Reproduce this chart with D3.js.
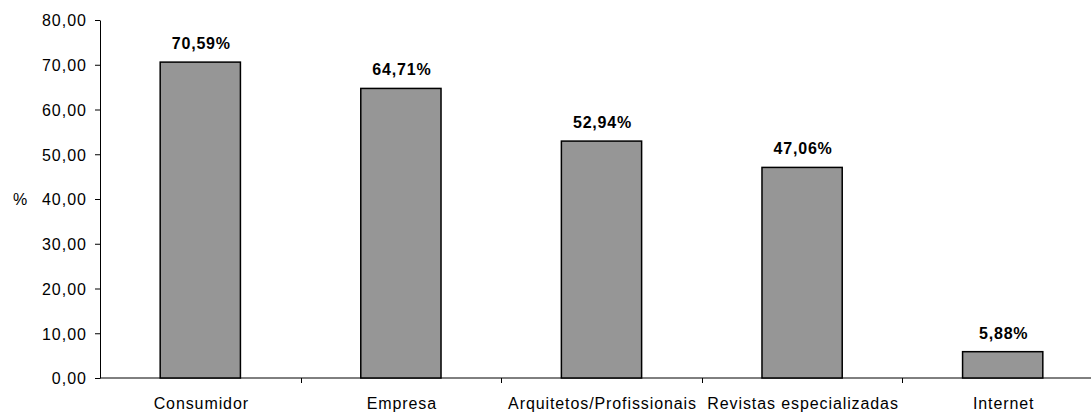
<!DOCTYPE html>
<html>
<head>
<meta charset="utf-8">
<script src="https://cdn.jsdelivr.net/npm/d3@7"></script>
<style>
  body { margin: 0; background: #fff; }
  text { font-family: Arial, "Liberation Sans", sans-serif; fill: #000; }
</style>
</head>
<body>
<div id="chart"></div>
<script>
// data
var categories = ["Consumidor", "Empresa", "Arquitetos/Profissionais", "Revistas especializadas", "Internet"];
var values = [70.59, 64.71, 52.94, 47.06, 5.88];
var yTicks = [0, 10, 20, 30, 40, 50, 60, 70, 80];

(function () {
    var width = 1091, height = 413;
    var left = 100, right = 1103, top = 20, bottom = 378;

    var svg = d3.select("#chart").append("svg")
        .attr("width", width)
        .attr("height", height);

    var x = d3.scaleBand()
        .domain(categories)
        .range([left, right])
        .paddingInner(0.6)
        .paddingOuter(0.3);

    var y = d3.scaleLinear().domain([0, 80]).range([bottom, top]);

    var fmt = function (v) { return d3.format(".2f")(v).replace(".", ","); };

    // y axis
    var yAxis = svg.append("g")
        .attr("transform", "translate(" + left + ",0)")
        .call(d3.axisLeft(y).tickValues(yTicks).tickSize(5).tickSizeOuter(0).tickFormat(fmt));
    yAxis.select(".domain").attr("stroke", "#000");
    yAxis.selectAll(".tick line").attr("stroke", "#000");
    yAxis.selectAll(".tick text")
        .attr("x", -13)
        .attr("dy", "0.36em")
        .style("font-size", "16px")
        .style("letter-spacing", "1px")
        .style("font-family", "Arial, 'Liberation Sans', sans-serif")
        .attr("fill", "#000");

    // x axis line + separators between categories
    var step = x.step();
    svg.append("line")
        .attr("x1", left).attr("x2", right)
        .attr("y1", bottom).attr("y2", bottom)
        .attr("stroke", "#000");
    svg.selectAll(".xsep")
        .data(categories.slice(1))
        .enter().append("line")
        .attr("class", "xsep")
        .attr("x1", function (d) { return Math.round(x(d) - x.paddingInner() * step / 2) + 0.5; })
        .attr("x2", function (d) { return Math.round(x(d) - x.paddingInner() * step / 2) + 0.5; })
        .attr("y1", bottom).attr("y2", bottom + 5)
        .attr("stroke", "#000");

    // bars
    svg.selectAll(".bar")
        .data(values)
        .enter().append("rect")
        .attr("class", "bar")
        .attr("x", function (d, i) { return x(categories[i]); })
        .attr("y", function (d) { return y(d); })
        .attr("width", x.bandwidth())
        .attr("height", function (d) { return y(0) - y(d); })
        .attr("fill", "#969696")
        .attr("stroke", "#000")
        .attr("stroke-width", 1.5);

    // value labels
    svg.selectAll(".val")
        .data(values)
        .enter().append("text")
        .attr("class", "val")
        .attr("x", function (d, i) { return x(categories[i]) + x.bandwidth() / 2 + 1; })
        .attr("y", function (d) { return y(d) - 13; })
        .attr("text-anchor", "middle")
        .style("font-size", "16px")
        .style("font-weight", "bold")
        .style("letter-spacing", "0.8px")
        .text(function (d) { return fmt(d) + "%"; });

    // category labels
    svg.selectAll(".cat")
        .data(categories)
        .enter().append("text")
        .attr("class", "cat")
        .attr("x", function (d) { return x(d) + x.bandwidth() / 2 + 1; })
        .attr("y", 409)
        .attr("text-anchor", "middle")
        .style("font-size", "16px")
        .style("letter-spacing", "0.9px")
        .text(function (d) { return d; });

    // y label
    svg.append("text")
        .attr("x", 13)
        .attr("y", y(40))
        .attr("dy", "0.36em")
        .style("font-size", "16px")
        .text("%");
})();
</script>
</body>
</html>
